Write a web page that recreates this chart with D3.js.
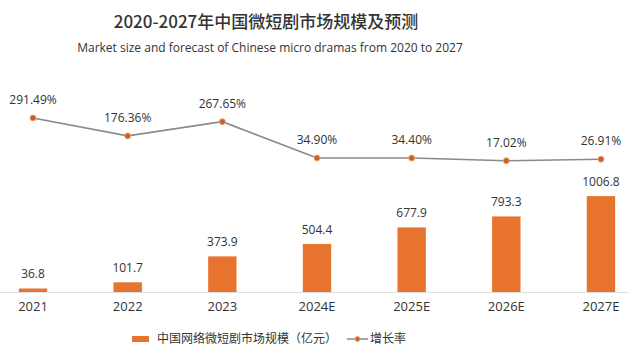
<!DOCTYPE html>
<html><head><meta charset="utf-8">
<script src="https://cdn.jsdelivr.net/npm/d3@7"></script>
<style>
html,body{margin:0;padding:0;background:#fff;}
svg{display:block;}
text{font-family:"Open Sans","Noto Sans CJK SC",sans-serif;fill:#333;}
.cjk{font-family:"Noto Sans CJK SC","Open Sans",sans-serif;}
</style></head>
<body>
<svg id="chart" width="629" height="358"></svg>
<script>
const categories = ["2021","2022","2023","2024E","2025E","2026E","2027E"];
const marketSize = [36.8, 101.7, 373.9, 504.4, 677.9, 793.3, 1006.8];
const growthRate = [291.49, 176.36, 267.65, 34.90, 34.40, 17.02, 26.91];
const growthLabels = ["291.49%","176.36%","267.65%","34.90%","34.40%","17.02%","26.91%"];
const sizeLabels = ["36.8","101.7","373.9","504.4","677.9","793.3","1006.8"];
const titleText = "2020-2027年中国微短剧市场规模及预测";
const subtitleText = "Market size and forecast of Chinese micro dramas from 2020 to 2027";
const legendBar = "中国网络微短剧市场规模（亿元）";
const legendLine = "增长率";

const svg = d3.select("#chart");
const barColor = "#E8732F";

const x = d3.scaleBand().domain(categories).range([-14.3, 648.3]).paddingInner(0.7).paddingOuter(0.35);
const yBar = d3.scaleLinear().domain([0, 1050]).range([292, 192]);
const yLine = d3.scaleLinear().domain([0, 300]).range([163.4, 116.6]);

// title
svg.append("text").attr("class","cjk").attr("x",266).attr("y",28).attr("text-anchor","middle")
  .style("font-size","17px").style("font-weight","500").text(titleText);
svg.append("text").attr("x",270).attr("y",52).attr("text-anchor","middle")
  .style("font-size","12px").text(subtitleText);

// bars
svg.append("g").selectAll("rect").data(marketSize).join("rect")
  .attr("x",(d,i)=>x(categories[i])).attr("width",x.bandwidth())
  .attr("y",d=>yBar(d)).attr("height",d=>yBar(0)-yBar(d)).attr("fill",barColor);

svg.append("g").selectAll("text").data(marketSize).join("text")
  .attr("x",(d,i)=>x(categories[i])+x.bandwidth()/2).attr("y",d=>yBar(d)-10)
  .attr("text-anchor","middle").style("font-size","12px").text((d,i)=>sizeLabels[i]);

// axis
const ax = svg.append("g").attr("transform","translate(0,292)")
  .call(d3.axisBottom(x).tickSize(0).tickPadding(10));
ax.select(".domain").attr("stroke","#e2e2e2").attr("stroke-width",1.2);
ax.selectAll("text").style("font-size","13px").style("fill","#333").attr("font-family",null);

// line
const line = d3.line().x((d,i)=>x(categories[i])+x.bandwidth()/2).y(d=>yLine(d));
svg.append("path").datum(growthRate).attr("d",line).attr("fill","none")
  .attr("stroke","#8a8a8a").attr("stroke-width",1.6);
svg.append("g").selectAll("circle").data(growthRate).join("circle")
  .attr("cx",(d,i)=>x(categories[i])+x.bandwidth()/2).attr("cy",d=>yLine(d)).attr("r",3)
  .attr("fill","#c4622a").attr("stroke","#f3a56c").attr("stroke-width",1);
svg.append("g").selectAll("text").data(growthRate).join("text")
  .attr("x",(d,i)=>x(categories[i])+x.bandwidth()/2).attr("y",d=>yLine(d)-14)
  .attr("text-anchor","middle").style("font-size","12px").text((d,i)=>growthLabels[i]);

// legend
const lg = svg.append("g");
lg.append("rect").attr("x",132).attr("y",336).attr("width",17).attr("height",6).attr("fill",barColor);
lg.append("text").attr("class","cjk").attr("x",157).attr("y",343).style("font-size","12px").text(legendBar);
lg.append("line").attr("x1",347).attr("x2",368).attr("y1",339).attr("y2",339).attr("stroke","#8a8a8a").attr("stroke-width",1.5);
lg.append("circle").attr("cx",357.5).attr("cy",339).attr("r",2.5).attr("fill","#c4622a").attr("stroke","#f3a56c").attr("stroke-width",1);
lg.append("text").attr("class","cjk").attr("x",370).attr("y",343).style("font-size","12px").text(legendLine);
</script>
</body></html>
